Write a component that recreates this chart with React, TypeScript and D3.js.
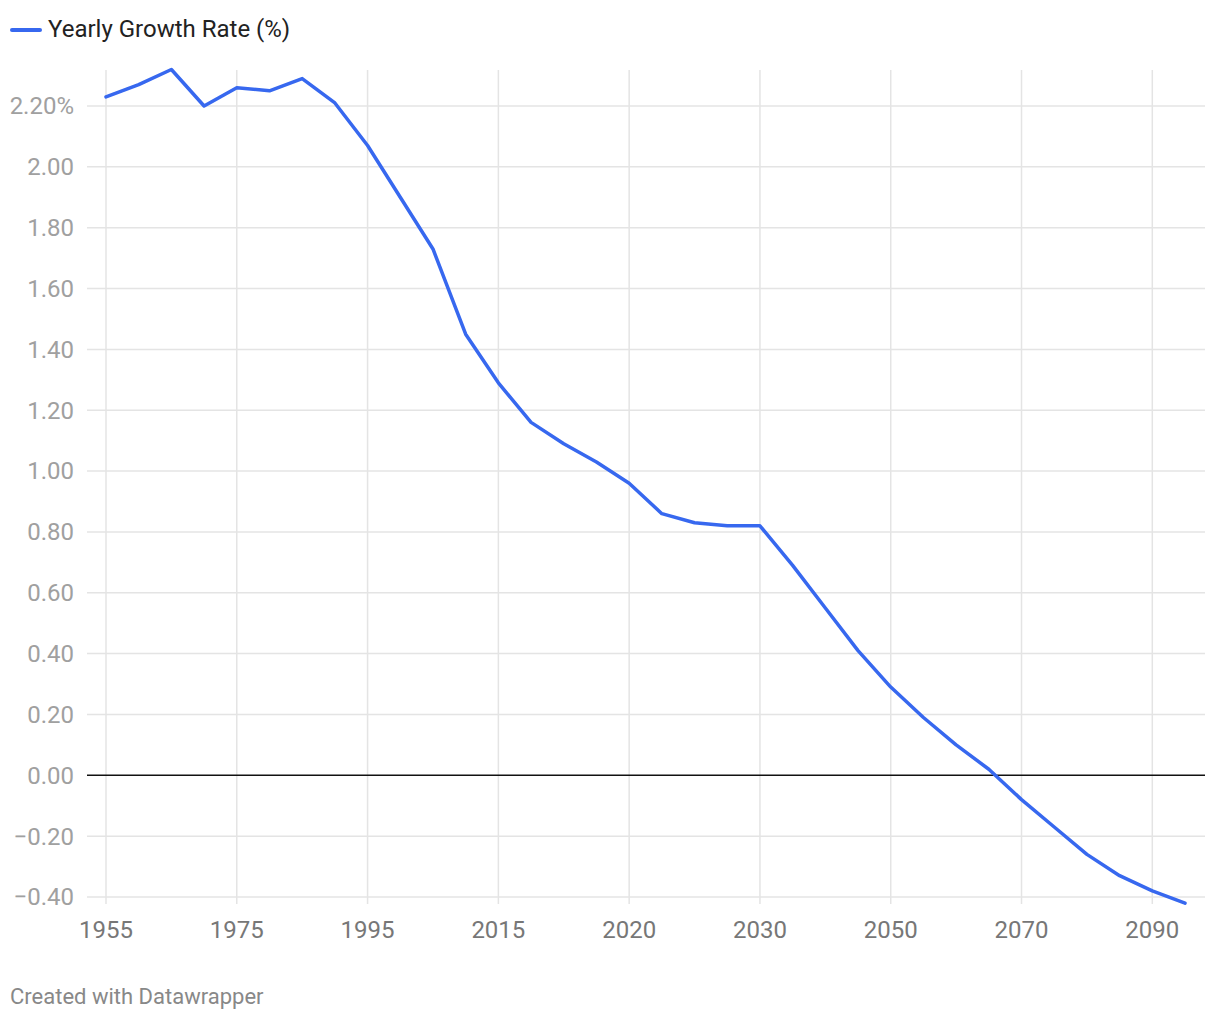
import React from "react";
import * as d3 from "d3";

const years: string[] = [
  "1955", "1960", "1965", "1970", "1975", "1980", "1985", "1990", "1995",
  "2000", "2005", "2010", "2015", "2016", "2017", "2018", "2020", "2022",
  "2024", "2026", "2030", "2035", "2040", "2045", "2050", "2055", "2060",
  "2065", "2070", "2075", "2080", "2085", "2090", "2095",
];
const growth: number[] = [
  2.23, 2.27, 2.32, 2.2, 2.26, 2.25, 2.29, 2.21, 2.07,
  1.9, 1.73, 1.45, 1.29, 1.16, 1.09, 1.03, 0.96, 0.86,
  0.83, 0.82, 0.82, 0.69, 0.55, 0.41, 0.29, 0.19, 0.1,
  0.02, -0.08, -0.17, -0.26, -0.33, -0.38, -0.42,
];
const xTickLabels: string[] = ["1955", "1975", "1995", "2015", "2020", "2030", "2050", "2070", "2090"];
const yTicks: number[] = [2.2, 2.0, 1.8, 1.6, 1.4, 1.2, 1.0, 0.8, 0.6, 0.4, 0.2, 0, -0.2, -0.4];
const seriesName = "Yearly Growth Rate (%)";

const W = 1220;
const H = 1020;
const FONT = "Roboto, 'Noto Sans', sans-serif";
const LINE = "#3768ef";

export default function App() {
  const x = d3.scalePoint<string>().domain(years).range([106, 1185]);
  const y = d3.scaleLinear().domain([-0.4, 2.2]).range([897, 106]);
  const line = d3
    .line<number>()
    .x((_, i) => x(years[i]) as number)
    .y((d) => y(d));
  const fmt = (v: number) => {
    const s = Math.abs(v).toFixed(2);
    return (v < 0 ? "\u2212" : "") + s;
  };
  const gridLeft = 87;
  const gridRight = 1205;
  return (
    <svg
      width={W}
      height={H}
      style={{ position: "absolute", left: 0, top: 0, background: "#fff" }}
      fontFamily={FONT}
    >
      {/* legend */}
      <line x1={12} x2={40} y1={30} y2={30} stroke={LINE} strokeWidth={4} strokeLinecap="round" />
      <text x={48} y={37} fontSize={24} fill="#222">{seriesName}</text>

      {/* vertical grid */}
      {xTickLabels.map((lab) => (
        <line
          key={"vg" + lab}
          x1={x(lab)}
          x2={x(lab)}
          y1={70}
          y2={904}
          stroke="#e4e4e4"
          strokeWidth={1.5}
        />
      ))}
      {/* horizontal grid */}
      {yTicks.map((t) => (
        <line
          key={"hg" + t}
          x1={gridLeft}
          x2={gridRight}
          y1={y(t)}
          y2={y(t)}
          stroke={t === 0 ? "#111" : "#e4e4e4"}
          strokeWidth={1.5}
        />
      ))}
      {/* y labels */}
      {yTicks.map((t, i) => (
        <text
          key={"yl" + t}
          x={74}
          y={y(t)}
          dy="0.35em"
          textAnchor="end"
          fontSize={24}
          fill="#a0a0a0"
        >
          {fmt(t) + (i === 0 ? "%" : "")}
        </text>
      ))}
      {/* x labels */}
      {xTickLabels.map((lab) => (
        <text
          key={"xl" + lab}
          x={x(lab)}
          y={938}
          textAnchor="middle"
          fontSize={24}
          fill="#777"
        >
          {lab}
        </text>
      ))}

      <path
        d={line(growth) || ""}
        fill="none"
        stroke={LINE}
        strokeWidth={3.5}
        strokeLinejoin="round"
        strokeLinecap="round"
      />

      <text x={10} y={1004} fontSize={22} fill="#888">Created with Datawrapper</text>
    </svg>
  );
}
